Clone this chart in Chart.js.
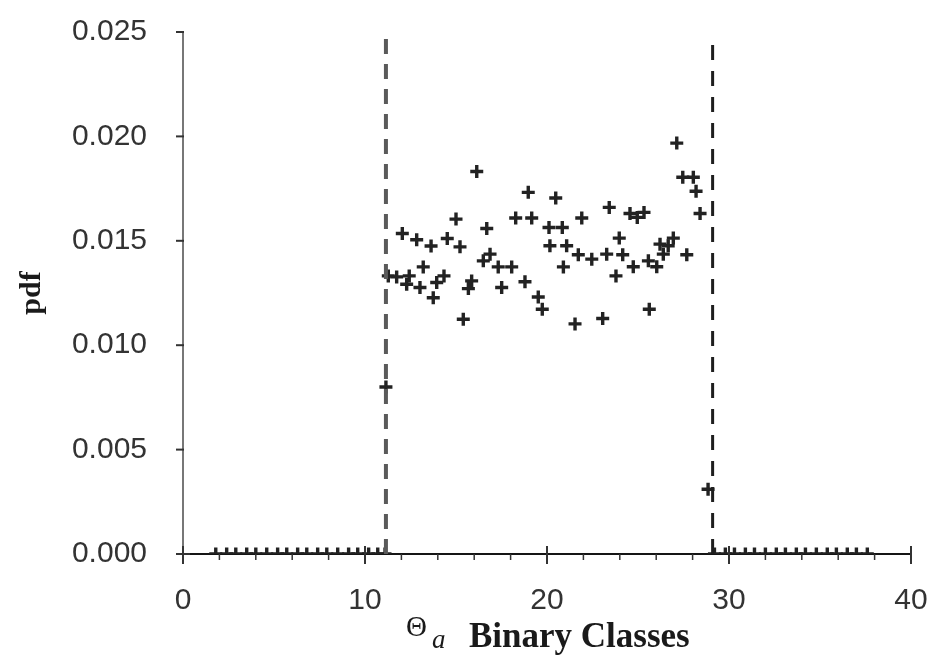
<!DOCTYPE html>
<html>
<head>
<meta charset="utf-8">
<script src="https://cdn.jsdelivr.net/npm/chart.js@4"></script>
<style>
  body { margin: 0; background: #fff; }
  #wrap { width: 933px; height: 659px; }
</style>
</head>
<body>
<div id="wrap"><canvas id="grafico"></canvas></div>
<script>
// classes outside the window, pdf = 0
const zeroLeftX = [1.8, 2.4, 2.9, 3.5, 4.0, 4.6, 5.2, 5.7, 6.3, 6.8, 7.4, 7.9, 8.5, 9.1, 9.6, 10.2, 10.7, 11.1];
const zeroRightX = [29.2, 29.8, 30.3, 30.9, 31.4, 32.0, 32.6, 33.1, 33.7, 34.2, 34.8, 35.4, 35.9, 36.5, 37.0, 37.6];

// classes inside the window
const midX = [11.28, 11.74, 12.05, 12.43, 12.29, 12.84, 13.02, 13.20, 13.63, 13.75, 13.94, 14.34, 14.52, 15.00, 15.22, 15.40,
  15.68, 15.86, 16.14, 16.50, 16.69, 16.87, 17.32, 17.51, 18.06, 18.28, 18.79, 18.97, 19.16, 19.52, 19.74, 20.11,
  20.16, 20.48, 20.84, 20.90, 21.08, 21.54, 21.72, 21.91, 22.46, 23.06, 23.28, 23.42, 23.79, 23.97, 24.16, 24.56,
  24.74, 24.96, 25.33, 25.57, 25.62, 26.03, 26.21, 26.39, 26.66, 26.94, 27.13, 27.46, 27.68, 28.04, 28.19, 28.41];
const midY = [0.01332, 0.01327, 0.01535, 0.01332, 0.01292, 0.01505, 0.01276, 0.01375, 0.01475, 0.01227, 0.01300, 0.01332, 0.01511, 0.01604, 0.01471, 0.01124,
  0.01271, 0.01308, 0.01832, 0.01404, 0.01559, 0.01436, 0.01375, 0.01276, 0.01375, 0.01609, 0.01304, 0.01732, 0.01609, 0.01231, 0.01172, 0.01564,
  0.01476, 0.01705, 0.01564, 0.01375, 0.01476, 0.01102, 0.01433, 0.01609, 0.01412, 0.01128, 0.01436, 0.01660, 0.01332, 0.01513, 0.01433, 0.01631,
  0.01376, 0.01612, 0.01636, 0.01404, 0.01172, 0.01376, 0.01484, 0.01436, 0.01476, 0.01513, 0.01968, 0.01804, 0.01433, 0.01804, 0.01737, 0.01631];

// edge classes
const edgeX = [11.15, 28.85];
const edgeY = [0.0080, 0.0031];

// window limits (dashed lines)
const limites = [11.15, 29.1];
const limiteTopo = 0.0247;

const xTicks = [0, 10, 20, 30, 40];
const yTicks = [0, 0.005, 0.010, 0.015, 0.020, 0.025];

const pontos = [
  ...zeroLeftX.map(x => ({ x, y: 0 })),
  ...zeroRightX.map(x => ({ x, y: 0 })),
  ...midX.map((x, i) => ({ x, y: midY[i] })),
  ...edgeX.map((x, i) => ({ x, y: edgeY[i] }))
];

const marcas = {
  id: "marcas",
  afterDraw(chart) {
    const ctx = chart.ctx;
    const sx = chart.scales.x, sy = chart.scales.y;
    const y0 = sy.getPixelForValue(0);
    const x0 = sx.getPixelForValue(0);
    ctx.save();
    ctx.strokeStyle = "#333";
    // x ticks: major crossing the axis, minor every 2
    for (let v = 0; v <= 40; v += 2) {
      const px = sx.getPixelForValue(v);
      ctx.lineWidth = xTicks.includes(v) ? 2 : 1.5;
      ctx.beginPath();
      if (xTicks.includes(v)) { ctx.moveTo(px, y0 - 8); ctx.lineTo(px, y0 + 10); }
      else { ctx.moveTo(px, y0); ctx.lineTo(px, y0 + 6); }
      ctx.stroke();
    }
    // y ticks
    ctx.lineWidth = 2;
    yTicks.forEach(v => {
      const py = sy.getPixelForValue(v);
      ctx.beginPath();
      ctx.moveTo(x0 - 7, py);
      ctx.lineTo(x0 + (v === 0 ? 7 : 1), py);
      ctx.stroke();
    });
    // x title: Θa Binary Classes
    ctx.fillStyle = "#1a1a1a";
    ctx.textBaseline = "alphabetic";
    ctx.textAlign = "left";
    ctx.font = "29px 'Liberation Serif'";
    ctx.fillText("Θ", 406, 636);
    ctx.font = "italic 27px 'Liberation Serif'";
    ctx.fillText("a", 432, 648);
    ctx.font = "bold 35px 'Liberation Serif'";
    ctx.fillText("Binary Classes", 469, 647);
    ctx.restore();
  }
};

new Chart(document.getElementById("grafico"), {
  type: "scatter",
  data: {
    datasets: [
      {
        data: pontos,
        pointStyle: "cross",
        pointRadius: 6.5,
        pointBorderWidth: 3.4,
        borderColor: "#222",
        backgroundColor: "#222",
        order: 1
      },
      {
        type: "line",
        data: [{ x: limites[0], y: 0 }, { x: limites[0], y: limiteTopo }],
        borderColor: "#5a5a5a",
        borderWidth: 4,
        borderDash: [15, 10],
        pointRadius: 0,
        order: 0
      },
      {
        type: "line",
        data: [{ x: limites[1], y: 0 }, { x: limites[1], y: limiteTopo }],
        borderColor: "#1e1e1e",
        borderWidth: 3,
        borderDash: [15, 11],
        pointRadius: 0,
        order: 0
      }
    ]
  },
  options: {
    responsive: true,
    maintainAspectRatio: false,
    animation: false,
    layout: { padding: { top: 32, right: 22, left: 0, bottom: 0 } },
    plugins: { legend: { display: false }, tooltip: { enabled: false } },
    scales: {
      x: {
        type: "linear",
        min: 0,
        max: 40,
        afterFit: s => { s.height = 105; s.paddingLeft = 0; s.paddingRight = 0; },
        grid: { display: false, drawTicks: false },
        border: { display: true, color: "#151515", width: 2 },
        ticks: {
          stepSize: 2,
          autoSkip: false,
          maxRotation: 0,
          padding: 29,
          color: "#333",
          font: { family: "'Liberation Sans'", size: 30 },
          callback: v => (xTicks.includes(v) ? String(v) : "")
        }
      },
      y: {
        min: 0,
        max: 0.025,
        afterFit: s => { s.width = 183; s.paddingTop = 0; s.paddingBottom = 0; },
        grid: { display: false, drawTicks: false },
        border: { display: true, color: "#777", width: 2, dash: [3, 2] },
        ticks: {
          stepSize: 0.005,
          padding: 36,
          color: "#333",
          font: { family: "'Liberation Sans'", size: 30 },
          callback: v => v.toFixed(3)
        },
        title: {
          display: true,
          text: "pdf",
          color: "#1a1a1a",
          padding: { top: 14, bottom: 0 },
          font: { family: "'Liberation Serif'", size: 30, weight: "bold" }
        }
      }
    }
  },
  plugins: [marcas]
});
</script>
</body>
</html>
